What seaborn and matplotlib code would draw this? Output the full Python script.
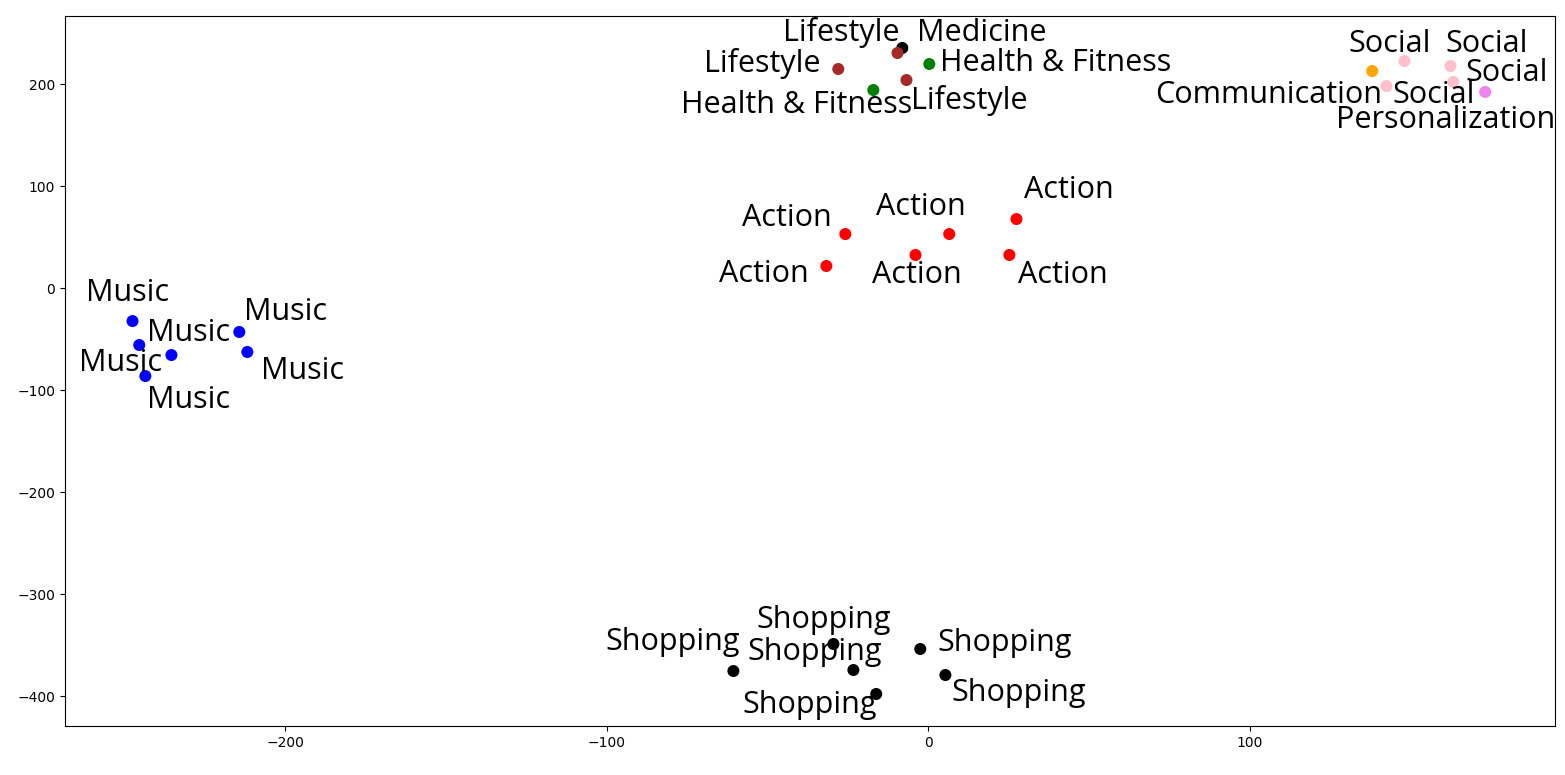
import seaborn as sns
import pandas as pd
import matplotlib.pyplot as plt

# embedding coordinates
categories = (["Music"] * 6 + ["Action"] * 6
              + ["Medicine", "Lifestyle", "Lifestyle", "Health & Fitness", "Lifestyle", "Health & Fitness"]
              + ["Communication", "Social", "Social", "Social", "Social", "Personalization"]
              + ["Shopping"] * 6)
x_vals = [-247.4, -245.3, -235.3, -243.4, -214.2, -211.7,
          -25.8, -31.7, -4.0, 6.5, 27.4, 25.2,
          -8.1, -9.6, -28.0, 0.3, -6.8, -17.1,
          138.0, 148.0, 162.3, 163.2, 142.4, 173.1,
          -60.6, -29.5, -23.3, -16.2, -2.5, 5.3]
y_vals = [-32.4, -55.9, -65.7, -86.3, -43.1, -62.7,
          52.9, 21.6, 32.4, 52.9, 67.6, 32.4,
          235.3, 230.4, 214.7, 219.6, 203.9, 194.1,
          212.7, 222.5, 217.6, 202.0, 198.0, 192.2,
          -375.5, -349.0, -374.5, -398.0, -353.9, -379.4]

# label offsets in pixels (dx, dy) so the text does not sit on the dots
label_dx = [-5, -19, 17, 43, 46, 55,
            -58, -62, 1, -28, 52, 53,
            79, -56, -76, 126, 63, -77,
            -104, -15, 36, 53, 47, -40,
            -61, -10, -39, -67, 84, 73]
label_dy = [28, -18, 22, -24, 20, -19,
            16, -8, -20, 27, 29, -20,
            15, 20, 6, 1, -20, -15,
            -24, 17, 22, 9, -9, -28,
            29, 24, 18, -11, 6, -18]

palette = {"Music": "blue", "Action": "red", "Medicine": "black",
           "Lifestyle": "brown", "Health & Fitness": "green",
           "Communication": "orange", "Social": "pink",
           "Personalization": "violet", "Shopping": "black"}

df = pd.DataFrame({"x": x_vals, "y": y_vals, "category": categories})

sns.set_style("ticks", {"axes.edgecolor": "black", "xtick.color": "black",
                        "ytick.color": "black", "text.color": "black"})
fig, ax = plt.subplots(figsize=(15.65, 7.75), dpi=100)
plt.subplots_adjust(left=0.0415, right=0.9936, top=0.9794, bottom=0.0632)

sns.scatterplot(data=df, x="x", y="y", hue="category", palette=palette,
                s=75, edgecolor="none", legend=False, ax=ax)

for i, row in df.iterrows():
    ax.annotate(row["category"], (row["x"], row["y"]),
                xytext=(label_dx[i], label_dy[i]), textcoords="offset pixels",
                ha="center", va="center", fontsize=22, family="Open Sans",
                color="black")

ax.set_xlim(-268.4, 194.8)
ax.set_ylim(-429.4, 266.7)
ax.set_xticks([-200, -100, 0, 100])
ax.set_yticks([-400, -300, -200, -100, 0, 100, 200])
ax.set_xlabel("")
ax.set_ylabel("")
ax.tick_params(labelsize=10, colors="black")

plt.savefig("out.png", dpi=100)
